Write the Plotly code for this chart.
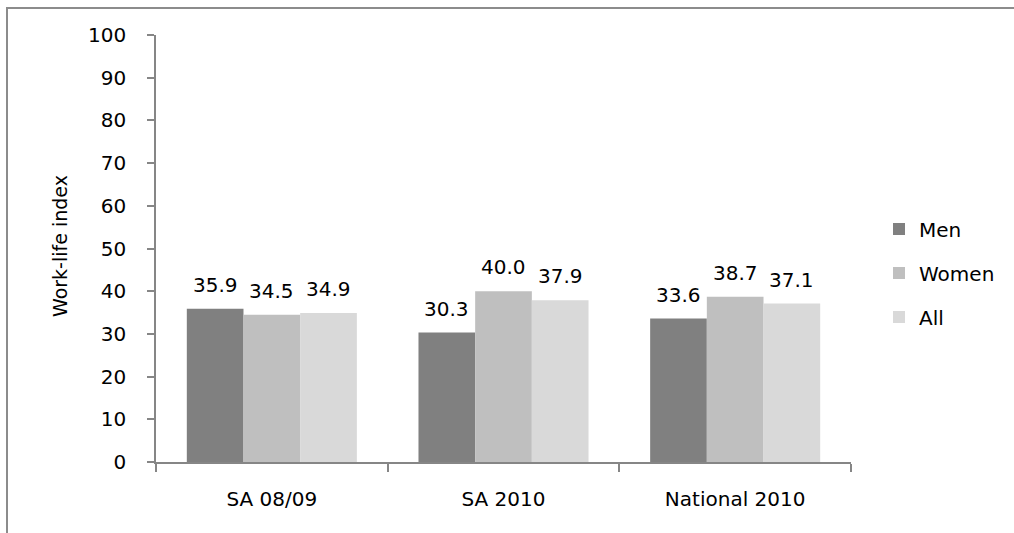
import plotly.graph_objects as go

categories = ["SA 08/09", "SA 2010", "National 2010"]
series_names = ["Men", "Women", "All"]
men = [35.9, 30.3, 33.6]
women = [34.5, 40.0, 38.7]
all_ = [34.9, 37.9, 37.1]
y_ticks = [0, 10, 20, 30, 40, 50, 60, 70, 80, 90, 100]

colors = ["#808080", "#bfbfbf", "#d9d9d9"]
series = [men, women, all_]

FONT = "DejaVu Sans"
W, H = 1014, 533
L, R, T, B = 156, 163, 35, 71
pw, ph = W - L - R, H - T - B

def px2x(px):
    return (px - L) / pw

def px2y(py):
    return (H - B - py) / ph

fig = go.Figure()
for i, (name, vals) in enumerate(zip(series_names, series)):
    fig.add_trace(go.Bar(
        x=categories, y=vals, name=name,
        marker=dict(color=colors[i], line=dict(width=0)),
        legendgroup=name,
    ))

bargap = 0.266
bw = (1 - bargap) / 3
annotations = []
for i, vals in enumerate(series):
    for j, v in enumerate(vals):
        annotations.append(dict(
            x=j + (i - 1) * bw, y=v, xref="x", yref="y",
            text=f"{v:.1f}", showarrow=False, yshift=24,
            xanchor="center", yanchor="middle",
            font=dict(family=FONT, size=20, color="#000000"),
        ))

annotations.append(dict(
    x=px2x(60), y=px2y(246), xref="paper", yref="paper", text="Work-life index",
    textangle=-90, showarrow=False, xanchor="center", yanchor="middle",
    font=dict(family=FONT, size=19, color="#000000"),
))

fig.update_layout(
    width=W, height=H,
    margin=dict(l=L, r=R, t=T, b=B, pad=0),
    paper_bgcolor="white", plot_bgcolor="white",
    barmode="group", bargap=bargap, bargroupgap=0,
    font=dict(family=FONT, size=20, color="#000000"),
    showlegend=True,
    legend=dict(
        x=px2x(879), y=px2y(273), xanchor="left", yanchor="middle",
        font=dict(family=FONT, size=20, color="#000000"),
        tracegroupgap=15, traceorder="grouped",
        bgcolor="rgba(0,0,0,0)",
    ),
    xaxis=dict(
        type="category", tickson="boundaries", ticks="outside", ticklen=8,
        tickcolor="#868686", tickwidth=1.5,
        showline=True, linecolor="#868686", linewidth=1.5,
        showgrid=False, zeroline=False, range=[-0.5, 2.5],
        tickfont=dict(family=FONT, size=20, color="#000000"),
        ticklabelstandoff=18,
    ),
    yaxis=dict(
        range=[0, 100], tickvals=y_ticks, ticks="outside", ticklen=7,
        tickcolor="#868686", tickwidth=1.5,
        showline=True, linecolor="#868686", linewidth=1.5,
        showgrid=False, zeroline=False,
        tickfont=dict(family=FONT, size=20, color="#000000"),
        ticklabelstandoff=17,
    ),
    annotations=annotations,
    shapes=[dict(
        type="rect", xref="paper", yref="paper",
        x0=px2x(7), x1=px2x(1100), y0=px2y(600), y1=px2y(8),
        line=dict(color="#8c8c8c", width=2), layer="below",
    )],
)

fig.write_html("out.html")
